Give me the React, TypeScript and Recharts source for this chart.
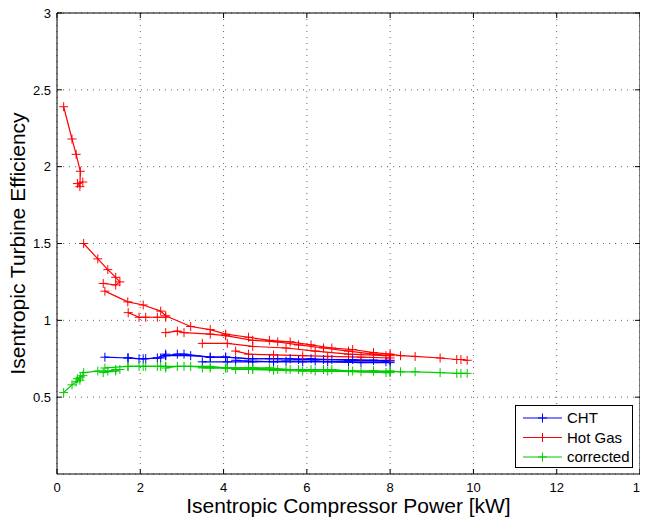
import React from "react";
import { LineChart, Line, XAxis, YAxis, CartesianGrid, ReferenceLine } from "recharts";

const xTicks = [0, 2, 4, 6, 8, 10, 12, 14];
const yTicks = [0.5, 1, 1.5, 2, 2.5, 3];

// compressor power [kW] for each test run
const runA = [0.16, 0.36, 0.46, 0.56, 0.55, 0.49, 0.62];
const runB = [0.64, 0.98, 1.22, 1.41, 1.51, 1.41, 1.11];
const runC = [1.15, 1.7, 2.07, 2.49, 2.61, 3.21, 3.68, 4.05, 4.6, 5.1, 5.6, 6.1, 6.6, 7.1, 7.6, 8.0, 8.25, 8.6, 9.2, 9.6, 9.7, 9.85];
const runD = [1.71, 1.97, 2.13, 2.41, 2.61];
const runE = [2.61, 2.89, 3.05, 3.68, 4.05, 4.7, 5.3, 5.8, 6.4, 7.0, 7.6, 8.0];
const runF = [3.49, 4.09, 4.7, 5.5, 6.2, 7.0, 7.9];
const runG = [4.29, 4.6, 5.2, 5.9, 6.5, 7.3, 8.0];

// turbine efficiency, hot gas
const hotA = [2.39, 2.18, 2.08, 1.97, 1.87, 1.89, 1.9];
const hotB = [1.5, 1.4, 1.33, 1.28, 1.25, 1.23, 1.24];
const hotC = [1.19, 1.12, 1.1, 1.06, 1.03, 0.96, 0.94, 0.91, 0.89, 0.87, 0.86, 0.84, 0.82, 0.81, 0.79, 0.78, 0.77, 0.765, 0.755, 0.745, 0.745, 0.74];
const hotD = [1.05, 1.02, 1.02, 1.02, 1.02];
const hotE = [0.92, 0.93, 0.92, 0.91, 0.9, 0.87, 0.86, 0.84, 0.82, 0.8, 0.78, 0.77];
const hotF = [0.85, 0.85, 0.83, 0.82, 0.8, 0.78, 0.77];
const hotG = [0.8, 0.78, 0.775, 0.77, 0.765, 0.76, 0.755];

// turbine efficiency, CHT (no data below ~1.1 kW)
const chtC = [0.76, 0.755, 0.75, 0.755, 0.77, 0.77, 0.76, 0.76, 0.75, 0.75, 0.75, 0.75, 0.745, 0.745, 0.74, 0.74];
const chtD = [0.756, 0.75, 0.75, 0.756, 0.78];
const chtE = [0.77, 0.78, 0.78, 0.76, 0.76, 0.75, 0.75, 0.745, 0.745, 0.74, 0.74, 0.735];
const chtF = [0.73, 0.73, 0.73, 0.735, 0.735, 0.73, 0.73];
const chtG = [0.74, 0.735, 0.73, 0.73, 0.73, 0.725, 0.725];

// turbine efficiency, corrected
const corrA = [0.53, 0.58, 0.6, 0.63, 0.61, 0.62, 0.64];
const corrB = [0.66, 0.67, 0.67, 0.68, 0.68, 0.67, 0.66];
const corrC = [0.69, 0.7, 0.7, 0.7, 0.7, 0.7, 0.69, 0.69, 0.69, 0.69, 0.68, 0.68, 0.68, 0.67, 0.67, 0.67, 0.665, 0.665, 0.66, 0.655, 0.655, 0.655];
const corrD = [0.7, 0.7, 0.7, 0.7, 0.7];
const corrE = [0.69, 0.7, 0.7, 0.7, 0.69, 0.69, 0.68, 0.68, 0.68, 0.67, 0.67, 0.665];
const corrF = [0.69, 0.69, 0.68, 0.68, 0.67, 0.67, 0.66];
const corrG = [0.68, 0.68, 0.675, 0.67, 0.67, 0.665, 0.66];

const BLUE = "#0000ff";
const RED = "#ff0000";
const GREEN = "#00cc00";
const FONT = "'Liberation Sans', Arial, Helvetica, sans-serif";

const W = 640;
const H = 510;
const YW = 49;
const XH = 44;
const M = { top: 5, right: 8, left: 0, bottom: 0 };
const PL = M.left + YW;
const PR = W - M.right;
const PT = M.top;
const PB = H - M.bottom - XH;

const zip = (xs: number[], ys: number[]) => ys.map((y, i) => ({ x: xs[i], y }));

const series = [
  { name: "CHT", color: BLUE, runs: [zip(runC, chtC), zip(runD, chtD), zip(runE, chtE), zip(runF, chtF), zip(runG, chtG)] },
  { name: "Hot Gas", color: RED, runs: [zip(runA, hotA), zip(runB, hotB), zip(runC, hotC), zip(runD, hotD), zip(runE, hotE), zip(runF, hotF), zip(runG, hotG)] },
  { name: "corrected", color: GREEN, runs: [zip(runA, corrA), zip(runB, corrB), zip(runC, corrC), zip(runD, corrD), zip(runE, corrE), zip(runF, corrF), zip(runG, corrG)] },
];

const plus = (color: string) => (p: any) => {
  if (p.cx == null || p.cy == null) return <g key={p.index} />;
  const s = 4.5;
  return (
    <path
      key={p.index}
      d={`M${p.cx - s},${p.cy}H${p.cx + s}M${p.cx},${p.cy - s}V${p.cy + s}`}
      stroke={color}
      strokeWidth={1}
      fill="none"
    />
  );
};

const XTick = ({ x, y, payload }: any) => (
  <g>
    <line x1={x} x2={x} y1={PB} y2={PB - 5} stroke="#000" />
    <line x1={x} x2={x} y1={PT} y2={PT + 5} stroke="#000" />
    <text x={x} y={y} dy="0.72em" textAnchor="middle" fontSize={13} fontFamily={FONT} fill="#000">
      {payload.value}
    </text>
  </g>
);

const YTick = ({ x, y, payload }: any) => (
  <g>
    <line x1={PL} x2={PL + 5} y1={y} y2={y} stroke="#000" />
    <line x1={PR} x2={PR - 5} y1={y} y2={y} stroke="#000" />
    <text x={x} y={y} dy="0.36em" textAnchor="end" fontSize={13} fontFamily={FONT} fill="#000">
      {payload.value}
    </text>
  </g>
);

const LegendBox = () => (
  <svg width={118} height={63} style={{ position: "absolute", left: 507, top: 397 }}>
    <rect x={0.5} y={0.5} width={117} height={62} fill="#fff" stroke="#000" />
    {series.map((s, i) => {
      const cy = 13 + i * 19.5;
      return (
        <g key={s.name}>
          <line x1={8} x2={47} y1={cy} y2={cy} stroke={s.color} strokeWidth={1.2} />
          <path d={`M${27.5 - 4.5},${cy}H${27.5 + 4.5}M27.5,${cy - 4.5}V${cy + 4.5}`} stroke={s.color} />
          <text x={52} y={cy + 5.3} fontSize={15} fontFamily={FONT} fill="#000">
            {s.name}
          </text>
        </g>
      );
    })}
  </svg>
);

export default function App() {
  return (
    <div style={{ position: "relative", width: W, height: H }}>
      <style>{`svg { overflow: visible; }`}</style>
      <LineChart width={W} height={H} margin={M}>
        <CartesianGrid stroke="#666" strokeDasharray="1 5" />
        <XAxis
          type="number"
          dataKey="x"
          domain={[0, 14]}
          ticks={xTicks}
          interval={0}
          allowDataOverflow
          height={XH}
          tickSize={0}
          tickMargin={9}
          tickLine={false}
          axisLine={{ stroke: "#000" }}
          tick={<XTick />}
          label={{
            value: "Isentropic Compressor Power [kW]",
            position: "insideBottom",
            offset: 5,
            style: { fontSize: 21, fontFamily: FONT, fill: "#000" },
          }}
        />
        <YAxis
          type="number"
          dataKey="y"
          domain={[0, 3]}
          ticks={yTicks}
          interval={0}
          allowDataOverflow
          width={YW}
          tickSize={0}
          tickMargin={6}
          tickLine={false}
          axisLine={{ stroke: "#000" }}
          tick={<YTick />}
          label={{
            value: "Isentropic Turbine Efficiency",
            angle: -90,
            position: "insideLeft",
            offset: 10,
            style: { fontSize: 21, fontFamily: FONT, fill: "#000", textAnchor: "middle" },
          }}
        />
        <ReferenceLine y={3} stroke="#000" strokeWidth={1} />
        <ReferenceLine x={14} stroke="#000" strokeWidth={1} />
        {series.map((s) =>
          s.runs.map((run, j) => (
            <Line
              key={`${s.name}-${j}`}
              data={run}
              dataKey="y"
              type="linear"
              stroke={s.color}
              strokeWidth={1.2}
              dot={plus(s.color)}
              activeDot={false}
              legendType="none"
              isAnimationActive={false}
            />
          ))
        )}
      </LineChart>
      <LegendBox />
    </div>
  );
}
